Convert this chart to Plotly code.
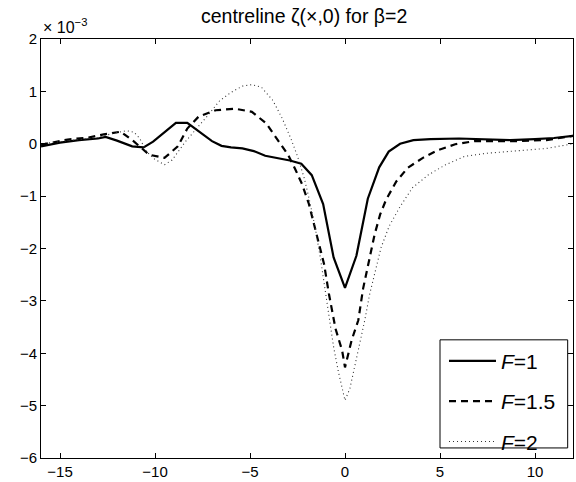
import plotly.graph_objects as go

# values in units of 1e-3
x_f1 = [-16, -15, -14, -13, -12.6, -12, -11.2, -10.6, -10.1, -9.5, -8.9, -8.3, -7.5, -7, -6.5, -6, -5.4, -4.8, -4.2, -3.4, -2.9, -2.3, -1.75, -1.15, -0.6, 0, 0.6, 1.2, 1.8, 2.3, 2.9, 3.6, 4.5, 6, 7.5, 8.7, 10, 11, 12]
y_f1 = [-0.05, 0.02, 0.07, 0.1, 0.13, 0.06, -0.05, -0.07, 0.04, 0.22, 0.4, 0.4, 0.18, 0.05, -0.04, -0.07, -0.09, -0.14, -0.23, -0.29, -0.32, -0.38, -0.6, -1.15, -2.17, -2.75, -2.14, -1.05, -0.45, -0.15, 0.0, 0.07, 0.09, 0.1, 0.09, 0.07, 0.09, 0.11, 0.15]

x_f15 = [-16, -15, -14.6, -13.5, -12.7, -11.8, -11.1, -10.3, -9.5, -8.8, -8.3, -7.7, -6.8, -5.8, -4.9, -4.15, -3.6, -3.0, -2.6, -2.25, -1.9, -1.47, -1.1, -0.85, -0.5, -0.15, 0, 0.35, 0.7, 0.95, 1.2, 1.56, 1.85, 2.16, 2.7, 3.3, 4.1, 4.9, 5.8, 6.8, 8, 9, 10.6, 12]
y_f15 = [-0.02, 0.05, 0.08, 0.12, 0.18, 0.23, 0.04, -0.21, -0.27, -0.05, 0.29, 0.52, 0.64, 0.67, 0.61, 0.39, 0.1, -0.21, -0.5, -0.78, -1.15, -1.79, -2.3, -2.86, -3.53, -3.95, -4.27, -3.75, -3.37, -2.77, -2.36, -1.73, -1.35, -1.07, -0.72, -0.46, -0.27, -0.12, -0.01, 0.05, 0.05, 0.05, 0.07, 0.15]

x_f2 = [-16, -15, -14, -13, -12.2, -11.5, -11.1, -10.8, -10.45, -10, -9.5, -9.1, -8.4, -7.7, -7.2, -6.6, -6, -5.4, -4.9, -4.4, -3.8, -3.3, -2.85, -2.5, -2.15, -1.9, -1.56, -1.3, -1.04, -0.78, -0.6, -0.35, -0.1, 0, 0.26, 0.52, 0.78, 1.04, 1.3, 1.64, 1.9, 2.33, 2.9, 3.55, 4.4, 5.3, 6.3, 7.5, 8.9, 10.6, 12]
y_f2 = [0.0, 0.04, 0.07, 0.12, 0.2, 0.25, 0.22, 0.1, -0.15, -0.3, -0.4, -0.31, 0.04, 0.33, 0.55, 0.82, 0.98, 1.1, 1.13, 1.08, 0.83, 0.48, 0.1, -0.24, -0.65, -1.03, -1.62, -2.17, -2.8, -3.43, -3.88, -4.35, -4.75, -4.9, -4.67, -4.25, -3.81, -3.37, -2.87, -2.36, -1.98, -1.57, -1.2, -0.84, -0.59, -0.4, -0.24, -0.18, -0.14, -0.09, 0.0]

x_ticks = [-15, -10, -5, 0, 5, 10]
y_ticks = [-6, -5, -4, -3, -2, -1, 0, 1, 2]

font = "Liberation Sans, Arial, sans-serif"

fig = go.Figure()
fig.add_trace(go.Scatter(x=x_f1, y=y_f1, mode="lines", name="<i>F</i>=1", legendgroup="a",
                         line=dict(color="black", width=2.2)))
fig.add_trace(go.Scatter(x=x_f15, y=y_f15, mode="lines", name="<i>F</i>=1.5", legendgroup="b",
                         line=dict(color="black", width=2.2, dash="7px,5px")))
fig.add_trace(go.Scatter(x=x_f2, y=y_f2, mode="lines", name="<i>F</i>=2", legendgroup="c",
                         line=dict(color="#333333", width=1.1, dash="1px,3px")))

axis_common = dict(showgrid=False, zeroline=False, showline=True, linecolor="black", linewidth=1,
                   mirror="ticks", ticks="inside", ticklen=5, tickcolor="black",
                   tickfont=dict(family=font, size=15, color="black"))

fig.update_xaxes(range=[-16, 12], tickvals=x_ticks, **axis_common)
fig.update_yaxes(range=[-6, 2], tickvals=y_ticks, **axis_common)

fig.update_layout(
    width=576, height=482,
    margin=dict(l=41, r=2, t=39, b=22),
    paper_bgcolor="white", plot_bgcolor="white",
    font=dict(family=font, color="black"),
    title=dict(text="centreline ζ(×,0) for β=2", x=0.528, xanchor="center", y=0.966, yanchor="middle",
               font=dict(family=font, size=19.5, color="black")),
    legend=dict(x=0.7575, y=0.28, xanchor="left", yanchor="top",
                borderwidth=0, bgcolor="rgba(0,0,0,0)",
                font=dict(family=font, size=21, color="black"),
                tracegroupgap=10, itemwidth=47),
    shapes=[dict(type="rect", xref="paper", yref="paper", x0=0.75, x1=0.99, y0=0.024, y1=0.282,
                 line=dict(color="black", width=1), fillcolor="white", layer="above")],
    annotations=[dict(text="× 10<sup>−3</sup>", xref="paper", yref="paper", x=0, y=1,
                      xanchor="left", yanchor="bottom", showarrow=False, yshift=1,
                      font=dict(family=font, size=16, color="black"))],
)

fig.write_html("out.html")
